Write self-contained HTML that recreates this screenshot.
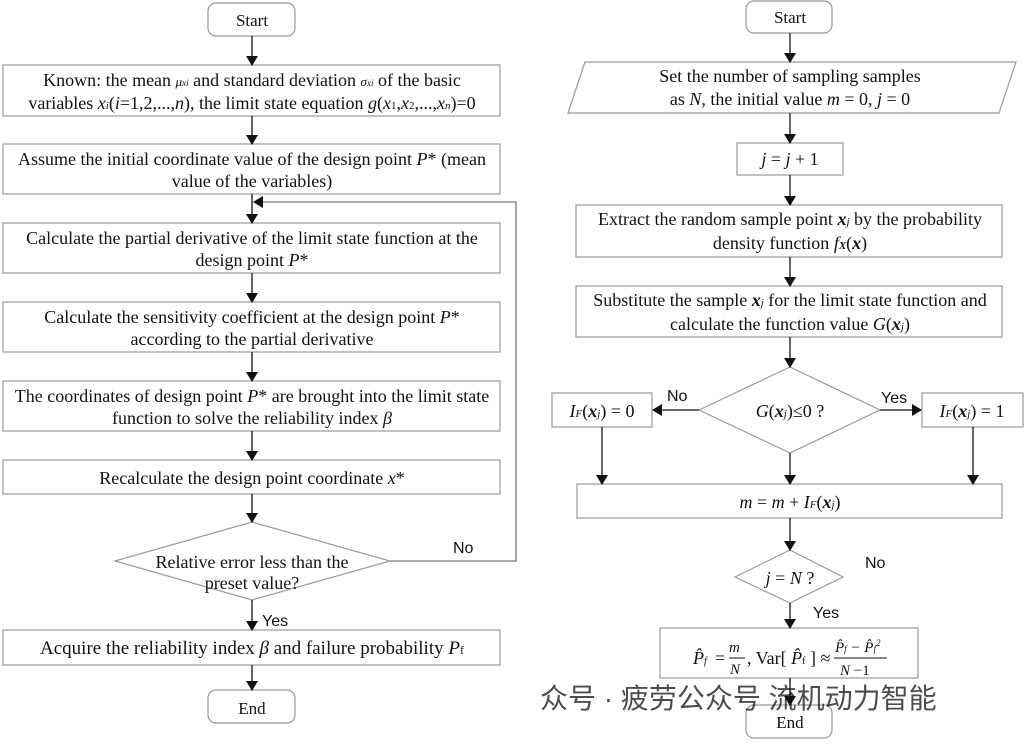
<!DOCTYPE html>
<html><head><meta charset="utf-8"><style>
body{margin:0;background:#fff;}
svg text{font-family:"Liberation Serif",serif;fill:#111;}
</style></head><body>
<svg width="1024" height="741" viewBox="0 0 1024 741" xmlns="http://www.w3.org/2000/svg">
<defs><marker id="a" markerWidth="10" markerHeight="12" refX="9" refY="6" orient="auto" markerUnits="userSpaceOnUse"><path d="M0,0 L10,6 L0,12 z" fill="#111"/></marker></defs>
<g fill="#fff" stroke="#999" stroke-width="1.2">
<rect x="208" y="3" width="87" height="33" rx="8"/>
<rect x="3" y="65" width="497" height="51"/>
<rect x="3" y="144" width="497" height="50"/>
<rect x="3" y="223" width="497" height="50"/>
<rect x="3" y="302" width="497" height="50"/>
<rect x="3" y="381" width="497" height="50"/>
<rect x="3" y="460" width="497" height="34"/>
<polygon points="115,561 252,522 390,561 252,600"/>
<rect x="3" y="630" width="497" height="35"/>
<rect x="208" y="690" width="87" height="33" rx="8"/>
<rect x="746" y="1" width="86" height="32" rx="8"/>
<polygon points="585,62 1016,62 999,113 568,113"/>
<rect x="737" y="143" width="106" height="32"/>
<rect x="576" y="205" width="426" height="52"/>
<rect x="576" y="286" width="426" height="51"/>
<polygon points="699,410 790,367 880,410 790,453"/>
<rect x="552" y="393" width="100" height="34"/>
<rect x="922" y="393" width="101" height="34"/>
<rect x="577" y="484" width="425" height="34"/>
<polygon points="735,577 790,550 843,577 790,603"/>
<rect x="660" y="628" width="258" height="50"/>
<rect x="746" y="705" width="86" height="33" rx="8"/>
</g>
<g stroke="#111" stroke-width="1.3" fill="none" marker-end="url(#a)">
<line x1="252" y1="36" x2="252" y2="65"/>
<line x1="252" y1="116" x2="252" y2="144"/>
<line x1="252" y1="194" x2="252" y2="223"/>
<line x1="252" y1="273" x2="252" y2="302"/>
<line x1="252" y1="352" x2="252" y2="381"/>
<line x1="252" y1="431" x2="252" y2="460"/>
<line x1="252" y1="494" x2="252" y2="522"/>
<line x1="252" y1="600" x2="252" y2="630"/>
<line x1="252" y1="665" x2="252" y2="690"/>
<polyline points="390,561 516,561 516,202 254,202" stroke="#777"/>
<line x1="790" y1="33" x2="790" y2="62"/>
<line x1="790" y1="113" x2="790" y2="143"/>
<line x1="790" y1="175" x2="790" y2="205"/>
<line x1="790" y1="257" x2="790" y2="286"/>
<line x1="790" y1="337" x2="790" y2="367"/>
<line x1="699" y1="410" x2="653" y2="410"/>
<line x1="880" y1="410" x2="921" y2="410"/>
<line x1="602" y1="427" x2="602" y2="484"/>
<line x1="973" y1="427" x2="973" y2="484"/>
<line x1="790" y1="453" x2="790" y2="484"/>
<line x1="790" y1="518" x2="790" y2="550"/>
<line x1="790" y1="603" x2="790" y2="628"/>
<line x1="790" y1="678" x2="790" y2="705"/>
</g>
<g font-size="18" text-anchor="middle">
<text x="252" y="26" font-size="17">Start</text>
<text x="252" y="86">Known: the mean <tspan font-style="italic" font-size="13">μ<tspan font-size="9">xi</tspan></tspan> and standard deviation <tspan font-style="italic" font-size="13">σ<tspan font-size="9">xi</tspan></tspan> of the basic</text>
<text x="252" y="109">variables <tspan font-style="italic">x<tspan font-size="11">i</tspan></tspan>(<tspan font-style="italic">i</tspan>=1,2,...,<tspan font-style="italic">n</tspan>), the limit state equation <tspan font-style="italic">g</tspan>(<tspan font-style="italic">x</tspan><tspan font-size="11">1</tspan>,<tspan font-style="italic">x</tspan><tspan font-size="11">2</tspan>,...,<tspan font-style="italic">x<tspan font-size="11">n</tspan></tspan>)=0</text>
<text x="252" y="165">Assume the initial coordinate value of the design point <tspan font-style="italic">P</tspan>* (mean</text>
<text x="252" y="187">value of the variables)</text>
<text x="252" y="244">Calculate the partial derivative of the limit state function at the</text>
<text x="252" y="266">design point <tspan font-style="italic">P</tspan>*</text>
<text x="252" y="323">Calculate the sensitivity coefficient at the design point <tspan font-style="italic">P</tspan>*</text>
<text x="252" y="345">according to the partial derivative</text>
<text x="252" y="402">The coordinates of design point <tspan font-style="italic">P</tspan>* are brought into the limit state</text>
<text x="252" y="424">function to solve the reliability index <tspan font-style="italic">β</tspan></text>
<text x="252" y="484">Recalculate the design point coordinate <tspan font-style="italic">x</tspan>*</text>
<text x="252" y="568">Relative error less than the</text>
<text x="252" y="589">preset value?</text>
<text x="252" y="654" font-size="19">Acquire the reliability index <tspan font-style="italic">β</tspan> and failure probability <tspan font-style="italic">P</tspan><tspan font-size="12">f</tspan></text>
<text x="252" y="714" font-size="17">End</text>
<text x="790" y="23" font-size="17">Start</text>
<text x="790" y="82">Set the number of sampling samples</text>
<text x="790" y="105">as <tspan font-style="italic">N</tspan>, the initial value <tspan font-style="italic">m</tspan> = 0, <tspan font-style="italic">j</tspan> = 0</text>
<text x="790" y="165"><tspan font-style="italic">j</tspan> = <tspan font-style="italic">j</tspan> + 1</text>
<text x="790" y="225">Extract the random sample point <tspan font-style="italic" font-weight="bold">x</tspan><tspan font-style="italic" font-size="11">j</tspan> by the probability</text>
<text x="790" y="249">density function <tspan font-style="italic">f</tspan><tspan font-style="italic" font-weight="bold" font-size="11">X</tspan>(<tspan font-style="italic" font-weight="bold">x</tspan>)</text>
<text x="790" y="306">Substitute the sample <tspan font-style="italic" font-weight="bold">x</tspan><tspan font-style="italic" font-size="11">j</tspan> for the limit state function and</text>
<text x="790" y="330">calculate the function value <tspan font-style="italic">G</tspan>(<tspan font-style="italic" font-weight="bold">x</tspan><tspan font-style="italic" font-size="11">j</tspan>)</text>
<text x="790" y="417"><tspan font-style="italic">G</tspan>(<tspan font-style="italic" font-weight="bold">x</tspan><tspan font-style="italic" font-size="11">j</tspan>)≤0 ?</text>
<text x="602" y="417"><tspan font-style="italic">I<tspan font-size="11">F</tspan></tspan>(<tspan font-style="italic" font-weight="bold">x</tspan><tspan font-style="italic" font-size="11">j</tspan>) = 0</text>
<text x="972" y="417"><tspan font-style="italic">I<tspan font-size="11">F</tspan></tspan>(<tspan font-style="italic" font-weight="bold">x</tspan><tspan font-style="italic" font-size="11">j</tspan>) = 1</text>
<text x="790" y="508"><tspan font-style="italic">m</tspan> = <tspan font-style="italic">m</tspan> + <tspan font-style="italic">I<tspan font-size="11">F</tspan></tspan>(<tspan font-style="italic" font-weight="bold">x</tspan><tspan font-style="italic" font-size="11">j</tspan>)</text>
<text x="790" y="584"><tspan font-style="italic">j</tspan> = <tspan font-style="italic">N</tspan> ?</text>
<text x="790" y="728" font-size="17">End</text>
</g>
<g font-size="16" fill="#222" style="font-family:'Liberation Sans',sans-serif">
<text x="453" y="553" style="font-family:'Liberation Sans',sans-serif" fill="#333">No</text>
<text x="262" y="626" style="font-family:'Liberation Sans',sans-serif" fill="#333">Yes</text>
<text x="667" y="401" style="font-family:'Liberation Sans',sans-serif" fill="#333">No</text>
<text x="881" y="403" style="font-family:'Liberation Sans',sans-serif" fill="#333">Yes</text>
<text x="865" y="568" style="font-family:'Liberation Sans',sans-serif" fill="#333">No</text>
<text x="813" y="618" style="font-family:'Liberation Sans',sans-serif" fill="#333">Yes</text>
</g>
<g font-size="18">
<text x="693" y="664" font-style="italic">P̂<tspan font-size="10">f</tspan></text>
<text x="715" y="664">=</text>
<line x1="729" y1="658" x2="745" y2="658" stroke="#111"/>
<text x="729" y="652" font-size="15" font-style="italic">m</text>
<text x="730" y="674" font-size="15" font-style="italic">N</text>
<text x="747" y="664">, Var[ <tspan font-style="italic">P̂</tspan><tspan font-size="10">f</tspan> ] ≈</text>
<line x1="834" y1="658" x2="887" y2="658" stroke="#111"/>
<text x="835" y="652" font-size="15" font-style="italic">P̂<tspan font-size="9">f</tspan> − P̂<tspan font-size="9">f</tspan><tspan font-size="9" dy="-6">2</tspan></text>
<text x="840" y="675" font-size="15"><tspan font-style="italic">N</tspan> −1</text>
</g>
<text x="540" y="708" font-size="28" fill="#bbb" opacity="0.75" style="font-family:'Liberation Sans','Noto Sans CJK SC',sans-serif">众号 · 疲劳公众号 流机动力智能</text>
</svg>
</body></html>
